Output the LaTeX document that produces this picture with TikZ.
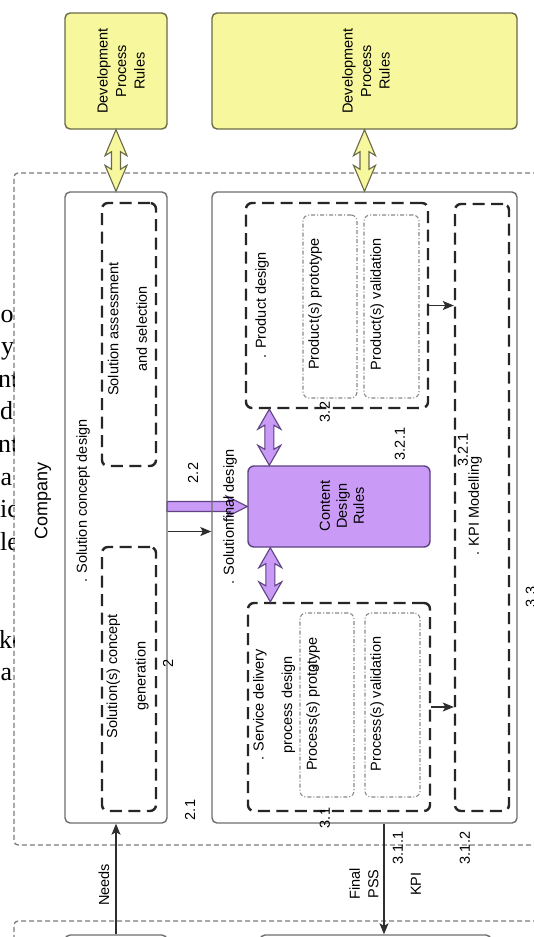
\documentclass[tikz,border=0pt]{standalone}
\usepackage{fontspec}
\setmainfont{Liberation Sans}
\newfontfamily\bodyserif{Liberation Serif}
\usetikzlibrary{arrows.meta,calc}

\definecolor{rulefill}{HTML}{F7F79E}
\definecolor{ruleedge}{HTML}{6A6A48}
\definecolor{cdrfill}{HTML}{C99BF7}
\definecolor{cdredge}{HTML}{5F4282}
\definecolor{frameedge}{HTML}{6E6E6E}
\definecolor{stageedge}{HTML}{262626}
\definecolor{zoneedge}{HTML}{7C7C7C}
\definecolor{subedge}{HTML}{8A8A8A}
\definecolor{flowedge}{HTML}{2E2E2E}

\tikzset{
  lbl/.style={font=\fontsize{14.5}{17}\selectfont, inner sep=0pt, rotate=90, align=center},
  lblwide/.style={lbl, font=\fontsize{14.5}{28.5}\selectfont},
  lblrule/.style={lbl, font=\fontsize{14.5}{18.5}\selectfont},
  bodyfrag/.style={font=\bodyserif\fontsize{26}{30}\selectfont, inner sep=0pt},
  zonebox/.style={draw=zoneedge, line width=1.3pt, dash pattern=on 5pt off 3pt, rounded corners=4pt, inner sep=0pt},
  solidbox/.style={draw=frameedge, line width=1.4pt, rounded corners=5pt, inner sep=0pt},
  stagebox/.style={draw=stageedge, line width=2.4pt, dash pattern=on 12pt off 6.5pt, rounded corners=6pt, inner sep=0pt},
  subbox/.style={draw=subedge, line width=1.1pt, dash pattern=on 4pt off 2pt on 1pt off 2pt, rounded corners=6pt, inner sep=0pt},
  rulebox/.style={draw=ruleedge, fill=rulefill, line width=1.4pt, rounded corners=5pt, inner sep=0pt},
  cdrbox/.style={draw=cdredge, fill=cdrfill, line width=1.4pt, rounded corners=6pt, inner sep=0pt},
  rulearrow/.style={draw=ruleedge, fill=rulefill, line width=1.1pt, line join=miter},
  cdrarrow/.style={draw=cdredge, fill=cdrfill, line width=1.1pt, line join=miter},
  flow/.style={draw=flowedge, line width=1.2pt, -{Stealth[length=11pt,width=9pt,inset=2.5pt]}},
}

% fat double-headed arrow between two points on one vertical line
% #1 style, #2 upper end, #3 lower end, #4 head length, #5 head half width, #6 shaft half width
\newcommand\vfatdouble[6]{%
  \path[#1] let \p1=(#2), \p2=(#3) in
    (\x1,\y1) -- (\x1+#5,\y1-#4) -- (\x1+#6,\y1-#4+4pt) -- (\x1+#6,\y2+#4-4pt)
    -- (\x1+#5,\y2+#4) -- (\x1,\y2) -- (\x1-#5,\y2+#4) -- (\x1-#6,\y2+#4-4pt)
    -- (\x1-#6,\y1-#4+4pt) -- (\x1-#5,\y1-#4) -- cycle;}

% fat single-headed arrow pointing right, from #2 to #3
\newcommand\hfatarrow[3]{%
  \path[#1] let \p1=(#2), \p2=(#3) in
    (\x1,\y1+5pt) -- (\x2-17pt,\y1+5pt) -- (\x2-21pt,\y1+10.5pt) -- (\x2,\y1)
    -- (\x2-21pt,\y1-10.5pt) -- (\x2-17pt,\y1-5pt) -- (\x1,\y1-5pt) -- cycle;}

\begin{document}
\begin{tikzpicture}[x=1pt,y=-1pt]
\useasboundingbox (0,0) rectangle (534,937);
\clip (0,0) rectangle (534,937);
\fill[white] (0,0) rectangle (534,937);

% right ends of the neighbouring body-text lines
\begin{scope}
  \clip (0,0) rectangle (14,937);
  \foreach \t/\k/\dx [count=\i] in {o/0/0.5, y/1/1, nt/2/-2, d/3/0, nt/4/-2, a/5/0.5, ic/6/0, le/7/0, ke/10/-1, a/11/0.5}
    \node[bodyfrag, anchor=base west] (frag\i) at (\dx,{322+32.6*\k}) {\t};
\end{scope}

% zones
\node[zonebox, minimum width=560pt, minimum height=672pt] (company) at (294,509) {};
\node[zonebox, minimum width=560pt, minimum height=100pt] (customer) at (294,971) {};

% rule repositories
\node[rulebox, minimum width=102pt, minimum height=116pt] (dpr1) at (116,71) {};
\node[rulebox, minimum width=305pt, minimum height=116pt] (dpr2) at (364.5,71) {};
\node[lblrule] (dpr1txt) at (121,71) {Development\\Process\\Rules};
\node[lblrule] (dpr2txt) at (366,71) {Development\\Process\\Rules};

% fat arrow from the concept phase into the content rules (drawn under the frame)
\node[cdrbox, minimum width=182pt, minimum height=81pt] (content) at (339,506.5) {};
\coordinate (c2cdr) at (167,506.5);
\hfatarrow{cdrarrow}{c2cdr}{content.west}

% phase frames
\node[solidbox, minimum width=102pt, minimum height=631pt] (concept) at (116,507.5) {};
\node[solidbox, minimum width=305pt, minimum height=631pt] (final) at (364.5,507.5) {};
\node[solidbox, minimum width=102pt, minimum height=60pt] (needsrc) at (116,965) {};
\node[solidbox, minimum width=231pt, minimum height=60pt] (pssdst) at (375.5,965) {};

% stages
\node[stagebox, minimum width=54pt, minimum height=263pt] (assess) at (129,334.5) {};
\node[stagebox, minimum width=54pt, minimum height=264pt] (generate) at (129,679) {};
\node[stagebox, minimum width=182pt, minimum height=205pt] (product) at (337,305.5) {};
\node[stagebox, minimum width=182pt, minimum height=208pt] (service) at (339,707) {};
\node[stagebox, minimum width=54pt, minimum height=607pt] (kpi) at (482,507.5) {};

% sub-steps
\node[subbox, minimum width=54pt, minimum height=183pt] (pproto) at (330,306.5) {};
\node[subbox, minimum width=55pt, minimum height=183pt] (pvalid) at (391.5,306.5) {};
\node[subbox, minimum width=54pt, minimum height=184pt] (sproto) at (327,705) {};
\node[subbox, minimum width=55pt, minimum height=184pt] (svalid) at (392.5,705) {};

% connectors
\coordinate (c2f) at ([yshift=-24pt]concept.east);
\draw[flow] (c2f) -- (c2f -| final.west);
\draw[flow] (product.east) -- (product.east -| kpi.west);
\draw[flow] (service.east) -- (service.east -| kpi.west);
\draw[flow] (needsrc.north) -- (concept.south);
\coordinate (pssout) at ([xshift=19.5pt]final.south);
\draw[flow] (pssout) -- (pssout |- pssdst.north);

% rule exchanges
\vfatdouble{rulearrow}{dpr1.south}{concept.north}{26pt}{11pt}{4.5pt}
\vfatdouble{rulearrow}{dpr2.south}{final.north}{26pt}{11pt}{4.5pt}
\coordinate (pcdr) at ([xshift=22pt]content.north west);
\coordinate (scdr) at ([xshift=23pt]content.south west);
\vfatdouble{cdrarrow}{pcdr |- product.south}{pcdr}{20pt}{11.5pt}{4.5pt}
\vfatdouble{cdrarrow}{scdr}{scdr |- service.north}{20pt}{11.5pt}{4.5pt}

% texts
\node[lbl, font=\fontsize{18}{21}\selectfont] (companytxt) at (43,501) {Company};
\node[lbl] (concepttxt) at (83,501) {. Solution concept design};
\node[lblwide] (assesstxt) at (127.5,329) {Solution assessment\\and selection};
\node[lblwide] (generatetxt) at (127.5,676) {Solution(s) concept\\generation};
\node[lbl] (n2) at (168,663) {2};
\node[lbl] (n22) at (193,473) {2.2};
\node[lbl] (n21) at (190,810) {2.1};
\node[lbl] (finaltxt) at (230,517) {. Solutionfinal design};
\node[lbl] (producttxt) at (262,305) {. Product design};
\node[lbl] (pprototxt) at (315,304) {Product(s) prototype};
\node[lbl] (pvalidtxt) at (377,304) {Product(s) validation};
\node[lbl] (n32) at (325,412) {3.2};
\node[lbl] (n321a) at (400,444) {3.2.1};
\node[lbl] (n321b) at (463,450) {3.2.1};
\node[lbl, font=\fontsize{14.5}{17}\selectfont] (contenttxt) at (342,506) {Content\\Design\\Rules};
\node[lbl] (kpitxt) at (475,506) {. KPI Modelling};
\node[lbl] (n33) at (531,597) {3.3};
\node[lblwide] (servicetxt) at (274,705) {. Service delivery\\process design};
\node[lbl] (sprototxt) at (313,704) {Process(s) prototype};
\node[lbl] (n3) at (314,668) {3};
\node[lbl] (svalidtxt) at (377,704) {Process(s) validation};
\node[lbl] (n31) at (325,818) {3.1};
\node[lbl] (n311) at (398,848) {3.1.1};
\node[lbl] (n312) at (465,848) {3.1.2};
\node[lbl] (needstxt) at (104,885) {Needs};
\node[lblrule] (psstxt) at (364,884) {Final\\PSS};
\node[lbl] (kpiout) at (416,884) {KPI};
\end{tikzpicture}
\end{document}
